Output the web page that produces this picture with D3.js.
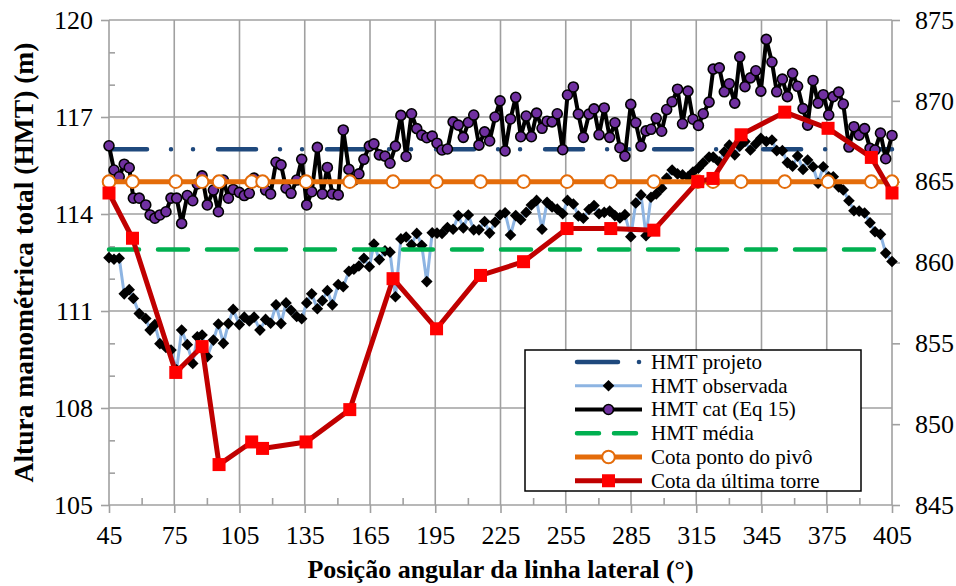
<!DOCTYPE html>
<html>
<head>
<meta charset="utf-8">
<script src="https://cdn.jsdelivr.net/npm/d3@7"></script>
<style>
  body { margin: 0; background: #fff; }
  svg { display: block; }
  text { font-family: "Liberation Serif", "Times New Roman", serif; fill: #000; }
</style>
</head>
<body>
<svg id="chart" width="956" height="586"></svg>
<script>
// Angular position of the lateral line (degrees) for each measurement
const angles = [45.0,47.3,49.7,52.0,54.3,56.2,58.9,61.9,63.9,66.1,68.4,71.2,73.5,76.1,78.4,81.0,83.5,85.6,87.8,90.2,
  93.0,95.3,97.6,99.9,102.1,104.9,107.2,109.5,111.7,114.4,117.0,119.3,121.8,124.1,126.4,128.7,131.3,133.6,135.9,138.2,
  140.8,143.1,145.4,147.7,150.4,152.7,155.3,157.6,159.9,162.2,164.7,166.8,169.3,171.9,174.2,176.7,179.2,181.6,184.1,186.5,
  188.8,191.1,193.6,195.8,198.1,200.6,203.2,205.6,207.9,210.2,212.7,215.1,217.7,220.0,222.5,224.8,227.1,229.6,232.0,234.3,
  236.8,239.2,241.6,244.1,246.4,248.7,251.1,253.6,255.8,258.5,260.8,263.1,265.7,268.0,270.3,272.7,275.2,277.6,279.9,282.2,
  284.9,287.2,289.6,291.9,294.2,296.6,299.1,301.4,303.9,306.4,308.7,311.2,313.5,316.0,318.2,320.9,322.8,325.6,327.9,330.2,
  332.7,335.0,337.4,339.9,342.4,344.7,347.2,349.8,352.0,354.6,356.9,359.3,361.6,364.1,366.2,368.7,371.0,373.4,375.9,378.0,
  380.5,382.6,385.2,387.5,389.9,392.4,394.9,397.2,399.7,402.1,405.0];

// HMT observada (m)
const hmtObservada = [112.65,112.60,112.63,111.53,111.66,111.39,110.92,110.77,110.41,110.58,109.99,109.87,109.79,109.18,110.41,109.96,109.38,110.20,110.26,109.59,
  110.10,110.60,110.00,110.61,111.05,110.58,110.81,110.69,110.81,110.41,110.74,110.62,111.19,110.61,111.25,111.02,110.83,110.76,111.25,111.53,
  111.07,111.32,111.63,111.19,111.82,111.75,112.23,112.29,112.39,112.63,112.37,113.07,112.59,112.86,112.82,111.44,113.23,113.29,113.05,113.40,
  113.03,111.91,113.42,113.41,113.40,113.58,113.53,113.95,113.57,113.97,113.51,113.51,113.77,113.41,113.75,113.97,114.04,113.35,113.95,113.82,
  114.05,114.28,114.42,113.53,114.36,114.22,114.15,114.01,114.42,114.31,113.94,113.87,114.14,114.26,114.01,114.05,114.09,113.95,113.88,113.98,
  113.30,114.34,114.59,113.33,114.52,114.62,114.80,115.11,115.36,115.24,115.21,115.15,115.30,115.42,115.58,115.76,115.76,115.61,115.92,116.13,
  115.83,116.10,116.24,115.98,116.17,116.34,116.24,116.29,115.96,115.96,115.59,115.48,115.79,115.38,115.67,115.46,114.95,115.46,115.15,115.15,
  114.84,114.74,114.41,114.10,114.09,114.03,113.73,113.45,113.37,112.79,112.53];

// HMT calculada pela Eq 15 (m)
const hmtCat = [116.11,115.36,115.15,115.54,115.43,114.49,114.49,114.28,113.97,113.87,113.97,114.07,114.49,114.49,113.71,114.57,114.41,114.93,115.18,114.28,
  114.74,114.07,115.05,114.49,114.76,114.67,114.57,114.64,115.11,114.99,114.74,114.62,115.60,115.52,114.80,114.64,115.05,115.69,114.28,114.69,
  116.06,114.62,115.44,114.62,114.59,116.60,115.38,115.05,115.24,115.69,116.10,116.17,115.83,115.79,115.57,116.10,117.05,115.78,117.10,116.64,
  116.44,116.36,116.41,116.19,115.98,116.01,116.85,116.75,116.37,116.83,117.06,116.13,116.54,116.26,117.00,117.50,115.95,116.94,117.61,116.39,
  117.03,116.39,117.12,116.65,116.87,116.85,117.10,115.99,117.68,117.93,117.09,116.37,117.09,117.25,116.45,117.28,116.37,116.82,116.05,115.79,
  117.39,116.82,116.10,116.57,116.62,116.96,116.56,117.23,117.47,117.86,116.79,117.80,116.93,116.74,117.10,117.46,118.48,118.52,117.78,118.03,
  117.43,118.86,117.94,118.21,118.43,117.80,119.40,118.70,117.78,118.17,117.63,118.35,117.95,117.26,116.75,118.13,117.43,117.69,117.06,117.63,
  117.77,117.40,116.07,116.70,116.44,116.64,116.03,115.98,116.50,115.71,116.43];

// Reference levels (m)
const hmtProjeto = 116.0;
const hmtMedia = 112.9;
const levelSpan = [45, 405];

// Tower positions (degrees) and elevations (m, right axis)
const torreAngles = [45.0,55.8,75.7,87.8,95.6,110.6,115.6,135.6,155.7,175.6,195.6,215.8,235.6,255.6,275.7,295.5,315.7,322.7,335.6,355.7,375.6,395.5,405.0];
const cotaTorre = [864.3,861.5,853.2,854.8,847.5,848.9,848.5,848.9,850.9,859.0,855.9,859.2,860.05,862.1,862.1,862.0,865.0,865.2,867.9,869.3,868.3,866.5,864.3];
const cotaPivo = 865;

const xTicks = [45,75,105,135,165,195,225,255,285,315,345,375,405];
const xMinorTicks = [60,90,120,150,180,210,240,270,300,330,360,390];
const yLeftTicks = [105,108,111,114,117,120];
const yLeftMinor = [106,107,109,110,112,113,115,116,118,119];
const yRightTicks = [845,850,855,860,865,870,875];

const legendItems = ["HMT projeto","HMT observada","HMT cat (Eq 15)","HMT média","Cota ponto do pivô","Cota da última torre"];

// Layout
const L = 109, R = 892, T = 20, B = 505;
const svg = d3.select("#chart");
const x = d3.scaleLinear().domain([45, 405]).range([L, R]);
const yL = d3.scaleLinear().domain([105, 120]).range([B, T]);
const yR = d3.scaleLinear().domain([845, 875]).range([B, T]);

const gridColor = "#a0a0a0";
const C = {
  projeto: "#1f497d", obs: "#8db4e2", cat: "#000", catFill: "#7030a0",
  media: "#00b050", pivo: "#e46c0a", torreLine: "#c00000", torreFill: "#ff0000"
};

// Grid
const grid = svg.append("g");
grid.selectAll(".gv").data(xTicks).join("line")
  .attr("x1", d => x(d)).attr("x2", d => x(d)).attr("y1", T).attr("y2", B)
  .attr("stroke", gridColor).attr("stroke-width", 1.6);
grid.selectAll(".gh").data(yLeftTicks).join("line")
  .attr("x1", L).attr("x2", R).attr("y1", d => yL(d)).attr("y2", d => yL(d))
  .attr("stroke", gridColor).attr("stroke-width", 1.6);

function styleAxis(g) {
  g.select(".domain").remove();
  g.selectAll(".tick line").attr("stroke", gridColor).attr("stroke-width", 1.6);
  g.selectAll("text").attr("font-size", 26).attr("font-family", '"Liberation Serif", serif').attr("fill", "#000");
}

// Left axis
svg.append("g").attr("transform", `translate(${L},0)`)
  .call(d3.axisLeft(yL).tickValues(yLeftTicks).tickSize(8).tickPadding(8).tickFormat(d3.format("d")))
  .call(styleAxis);
svg.append("g").attr("transform", `translate(${L},0)`)
  .call(d3.axisRight(yL).tickValues(yLeftMinor).tickSize(6).tickFormat(""))
  .call(styleAxis);

// Bottom axis
svg.append("g").attr("transform", `translate(0,${B})`)
  .call(d3.axisBottom(x).tickValues(xTicks).tickSize(8).tickPadding(13).tickFormat(d3.format("d")))
  .call(styleAxis);
svg.append("g").attr("transform", `translate(0,${B})`)
  .call(d3.axisTop(x).tickValues(xMinorTicks).tickSize(7).tickFormat(""))
  .call(styleAxis);

// Right axis
svg.append("g").attr("transform", `translate(${R},0)`)
  .call(d3.axisRight(yR).tickValues(yRightTicks).tickSize(8).tickPadding(15).tickFormat(d3.format("d")))
  .call(styleAxis);

// Axis titles
svg.append("text")
  .attr("x", (L + R) / 2).attr("y", 578)
  .attr("text-anchor", "middle").attr("font-size", 26).attr("font-weight", "bold")
  .text("Posição angular da linha lateral (°)");
svg.append("text")
  .attr("transform", `translate(33,${(T + B) / 2}) rotate(-90)`)
  .attr("text-anchor", "middle").attr("font-size", 27.5).attr("font-weight", "bold")
  .text("Altura manométrica total (HMT) (m)");

const lineL = d3.line().x(d => x(d[0])).y(d => yL(d[1]));
const lineR = d3.line().x(d => x(d[0])).y(d => yR(d[1]));
const diamond = h => `M0,${-h}L${h},0L0,${h}L${-h},0Z`;

// HMT projeto
svg.append("path")
  .attr("d", lineL(levelSpan.map(a => [a, hmtProjeto])))
  .attr("fill", "none").attr("stroke", C.projeto).attr("stroke-width", 4.5)
  .attr("stroke-linecap", "round").attr("stroke-dasharray", "38,24,0.01,22,0.01,25");

// HMT observada
const obsPts = angles.map((a, i) => [a, hmtObservada[i]]);
svg.append("path").attr("d", lineL(obsPts))
  .attr("fill", "none").attr("stroke", C.obs).attr("stroke-width", 3).attr("stroke-linejoin", "round");
svg.append("g").selectAll("path").data(obsPts).join("path")
  .attr("transform", d => `translate(${x(d[0])},${yL(d[1])})`)
  .attr("d", diamond(5.8)).attr("fill", "#000");

// HMT cat (Eq 15)
const catPts = angles.map((a, i) => [a, hmtCat[i]]);
svg.append("path").attr("d", lineL(catPts))
  .attr("fill", "none").attr("stroke", C.cat).attr("stroke-width", 4).attr("stroke-linejoin", "round");
svg.append("g").selectAll("circle").data(catPts).join("circle")
  .attr("cx", d => x(d[0])).attr("cy", d => yL(d[1])).attr("r", 5)
  .attr("fill", C.catFill).attr("stroke", "#000").attr("stroke-width", 1.6);

// HMT média
svg.append("path")
  .attr("d", lineL(levelSpan.map(a => [a, hmtMedia])))
  .attr("fill", "none").attr("stroke", C.media).attr("stroke-width", 4.5)
  .attr("stroke-linecap", "round").attr("stroke-dasharray", "30,19");

// Cota ponto do pivô
const pivoPts = torreAngles.map(a => [a, cotaPivo]);
svg.append("path").attr("d", lineR(pivoPts))
  .attr("fill", "none").attr("stroke", C.pivo).attr("stroke-width", 5);
svg.append("g").selectAll("circle").data(pivoPts).join("circle")
  .attr("cx", d => x(d[0])).attr("cy", d => yR(d[1])).attr("r", 6.3)
  .attr("fill", "#fff").attr("stroke", C.pivo).attr("stroke-width", 2);

// Cota da última torre
const torrePts = torreAngles.map((a, i) => [a, cotaTorre[i]]);
svg.append("path").attr("d", lineR(torrePts))
  .attr("fill", "none").attr("stroke", C.torreLine).attr("stroke-width", 5).attr("stroke-linejoin", "round");
svg.append("g").selectAll("rect").data(torrePts).join("rect")
  .attr("x", d => x(d[0]) - 6.5).attr("y", d => yR(d[1]) - 6.5)
  .attr("width", 13).attr("height", 13).attr("fill", C.torreFill);

// Legend
const lg = svg.append("g");
lg.append("rect").attr("x", 525).attr("y", 350).attr("width", 336).attr("height", 141)
  .attr("fill", "#fff").attr("stroke", "#000").attr("stroke-width", 1.5);
const rowY = i => 362 + i * 23.75;
const sx0 = 575, sx1 = 642, sm = 608.5;
lg.selectAll("text").data(legendItems).join("text")
  .attr("x", 651).attr("y", (d, i) => rowY(i)).attr("dy", "0.33em")
  .attr("font-size", 21).text(d => d);

// projeto sample
lg.append("line").attr("x1", sx0 + 2).attr("x2", 618).attr("y1", rowY(0)).attr("y2", rowY(0))
  .attr("stroke", C.projeto).attr("stroke-width", 4.5).attr("stroke-linecap", "round");
lg.append("circle").attr("cx", 639).attr("cy", rowY(0)).attr("r", 2.3).attr("fill", C.projeto);
// observada sample
lg.append("line").attr("x1", sx0).attr("x2", sx1).attr("y1", rowY(1)).attr("y2", rowY(1))
  .attr("stroke", C.obs).attr("stroke-width", 3);
lg.append("path").attr("transform", `translate(${sm},${rowY(1)})`).attr("d", diamond(5.8)).attr("fill", "#000");
// cat sample
lg.append("line").attr("x1", sx0).attr("x2", sx1).attr("y1", rowY(2)).attr("y2", rowY(2))
  .attr("stroke", C.cat).attr("stroke-width", 4);
lg.append("circle").attr("cx", sm).attr("cy", rowY(2)).attr("r", 5)
  .attr("fill", C.catFill).attr("stroke", "#000").attr("stroke-width", 1.6);
// média sample
lg.append("line").attr("x1", sx0 + 2).attr("x2", sx1 - 2).attr("y1", rowY(3)).attr("y2", rowY(3))
  .attr("stroke", C.media).attr("stroke-width", 4.5).attr("stroke-linecap", "round").attr("stroke-dasharray", "22,15");
// pivô sample
lg.append("line").attr("x1", sx0).attr("x2", sx1).attr("y1", rowY(4)).attr("y2", rowY(4))
  .attr("stroke", C.pivo).attr("stroke-width", 5);
lg.append("circle").attr("cx", sm).attr("cy", rowY(4)).attr("r", 6.3)
  .attr("fill", "#fff").attr("stroke", C.pivo).attr("stroke-width", 2);
// torre sample
lg.append("line").attr("x1", sx0).attr("x2", sx1).attr("y1", rowY(5)).attr("y2", rowY(5))
  .attr("stroke", C.torreLine).attr("stroke-width", 5);
lg.append("rect").attr("x", sm - 6.5).attr("y", rowY(5) - 6.5).attr("width", 13).attr("height", 13)
  .attr("fill", C.torreFill);
</script>
</body>
</html>
